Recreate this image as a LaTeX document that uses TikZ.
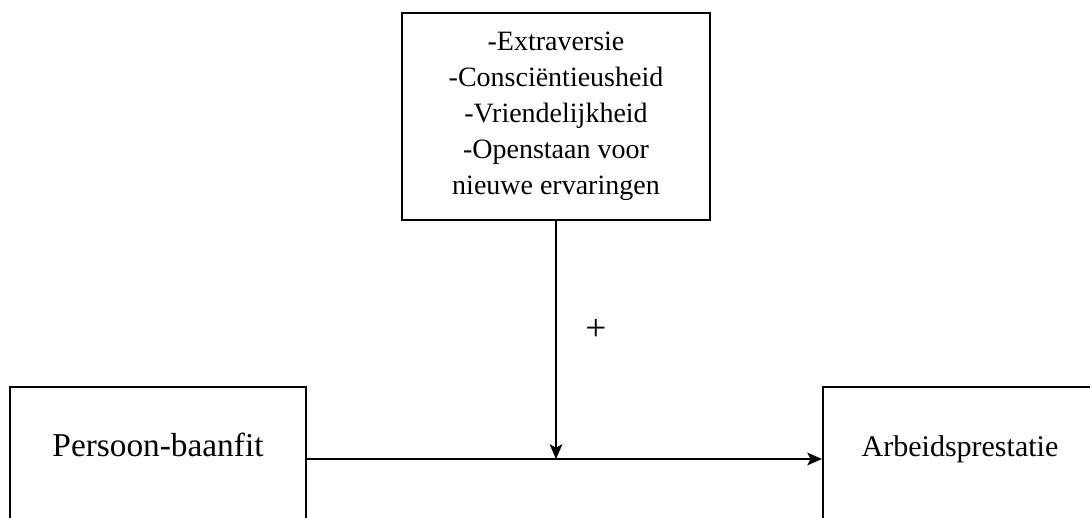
\documentclass[tikz,border=0pt]{standalone}
\usepackage{fontspec}
\setmainfont{Liberation Serif}
\usetikzlibrary{arrows.meta,positioning}

\begin{document}
\begin{tikzpicture}[x=0.75pt,y=0.75pt,yscale=-1,xscale=1,
	box/.style={draw,line width=1.6pt,inner sep=0pt,align=center},
	lowbox/.style={box,minimum height=108pt,text height=0pt,text depth=4.5pt},
	link/.style={line width=1.3pt,-{Stealth[length=11pt,width=9.5pt,inset=2.5pt]}}]
	\useasboundingbox (0,0) rectangle (1090,518);
	
	%Shape: Rectangle (moderators)
	\node [box,minimum width=231pt,minimum height=155pt,font=\fontsize{21}{27}\selectfont] (traits) at (556,116.5) {-Extraversie\\-Consciëntieusheid\\-Vriendelijkheid\\-Openstaan voor\\nieuwe ervaringen};
	%Shape: Rectangle (predictor)
	\node [lowbox,minimum width=222pt,font=\fontsize{25}{30}\selectfont] (fit) at (158,459) {Persoon-baanfit};
	%Shape: Rectangle (outcome)
	\node [lowbox,minimum width=205.5pt,font=\fontsize{22.5}{27}\selectfont] (prestatie) at (960,459) {Arbeidsprestatie};
	
	\coordinate (mid) at (traits.south |- fit.east);
	
	%Straight Lines
	\draw [link] (fit.east) -- (prestatie.west);
	\draw [link] (traits.south) -- (mid);
	
	% Text Node
	\node [font=\fontsize{28}{30}\selectfont] (plus) at (596,330) {+};
\end{tikzpicture}
\end{document}
